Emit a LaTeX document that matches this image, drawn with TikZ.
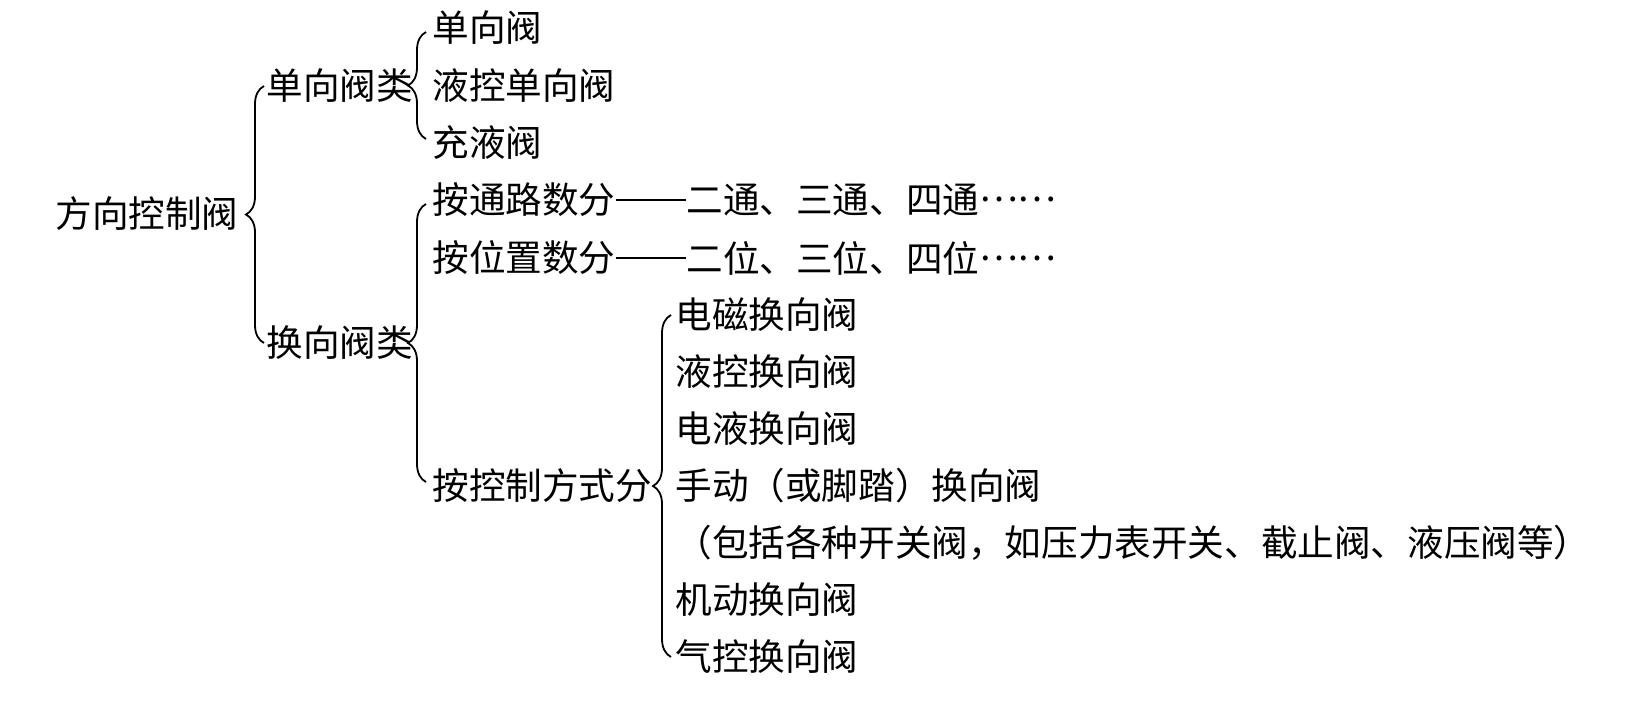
\documentclass[tikz,border=0pt]{standalone}
\usepackage{fontspec}
\newfontfamily\cjk{Noto Sans CJK SC}
\usetikzlibrary{decorations.pathreplacing,calc}
\newcommand\middots{\raisebox{0.33em}{……}}
\begin{document}
\begin{tikzpicture}[x=0.5pt,y=-0.5pt,
  t/.style={font=\cjk\fontsize{18.3}{22}\selectfont, inner sep=0pt, anchor=west, text=black},
  br/.style={decorate, decoration={brace, amplitude=9pt, aspect=0.5}, line width=0.9pt},
  dashline/.style={line width=0.8pt}]
\useasboundingbox[fill=white] (0,0) rectangle (1626,719);
% level 0
\node[t] (root) at (55,214) {方向控制阀};
% level 1
\node[t] (a1) at (266,86) {单向阀类};
\node[t] (a2) at (266,343) {换向阀类};
% level 2
\node[t] (b1) at (432,28) {单向阀};
\node[t] (b2) at (432,86) {液控单向阀};
\node[t] (b3) at (432,143) {充液阀};
\node[t] (c1) at (432,200) {按通路数分};
\node[t] (c2) at (432,258) {按位置数分};
\node[t] (c3) at (432,486) {按控制方式分};
\node[t] (e1) at (686,200) {二通、三通、四通\middots};
\node[t] (e2) at (686,258) {二位、三位、四位\middots};
% level 3
\node[t] (d1) at (675,315) {电磁换向阀};
\node[t] (d2) at (675,372) {液控换向阀};
\node[t] (d3) at (675,429) {电液换向阀};
\node[t] (d4) at (675,486) {手动（或脚踏）换向阀};
\node[t] (d5) at (675,543) {（包括各种开关阀，如压力表开关、截止阀、液压阀等）};
\node[t] (d6) at (675,600) {机动换向阀};
\node[t] (d7) at (675,657) {气控换向阀};
% braces
\draw[br] ($(a2.west)+(-2,0)$) -- ($(a1.west)+(-2,0)$);
\draw[br] ($(b3.west)+(-6,-4)$) -- ($(b1.west)+(-6,4)$);
\draw[br] ($(c3.west)+(-6,-4)$) -- ($(c1.west)+(-6,4)$);
\draw[br] ($(d7.west)+(-4,0)$) -- ($(d1.west)+(-4,0)$);
% dashes
\draw[dashline] (c1.east) -- (e1.west);
\draw[dashline] (c2.east) -- (e2.west);
\end{tikzpicture}
\end{document}
